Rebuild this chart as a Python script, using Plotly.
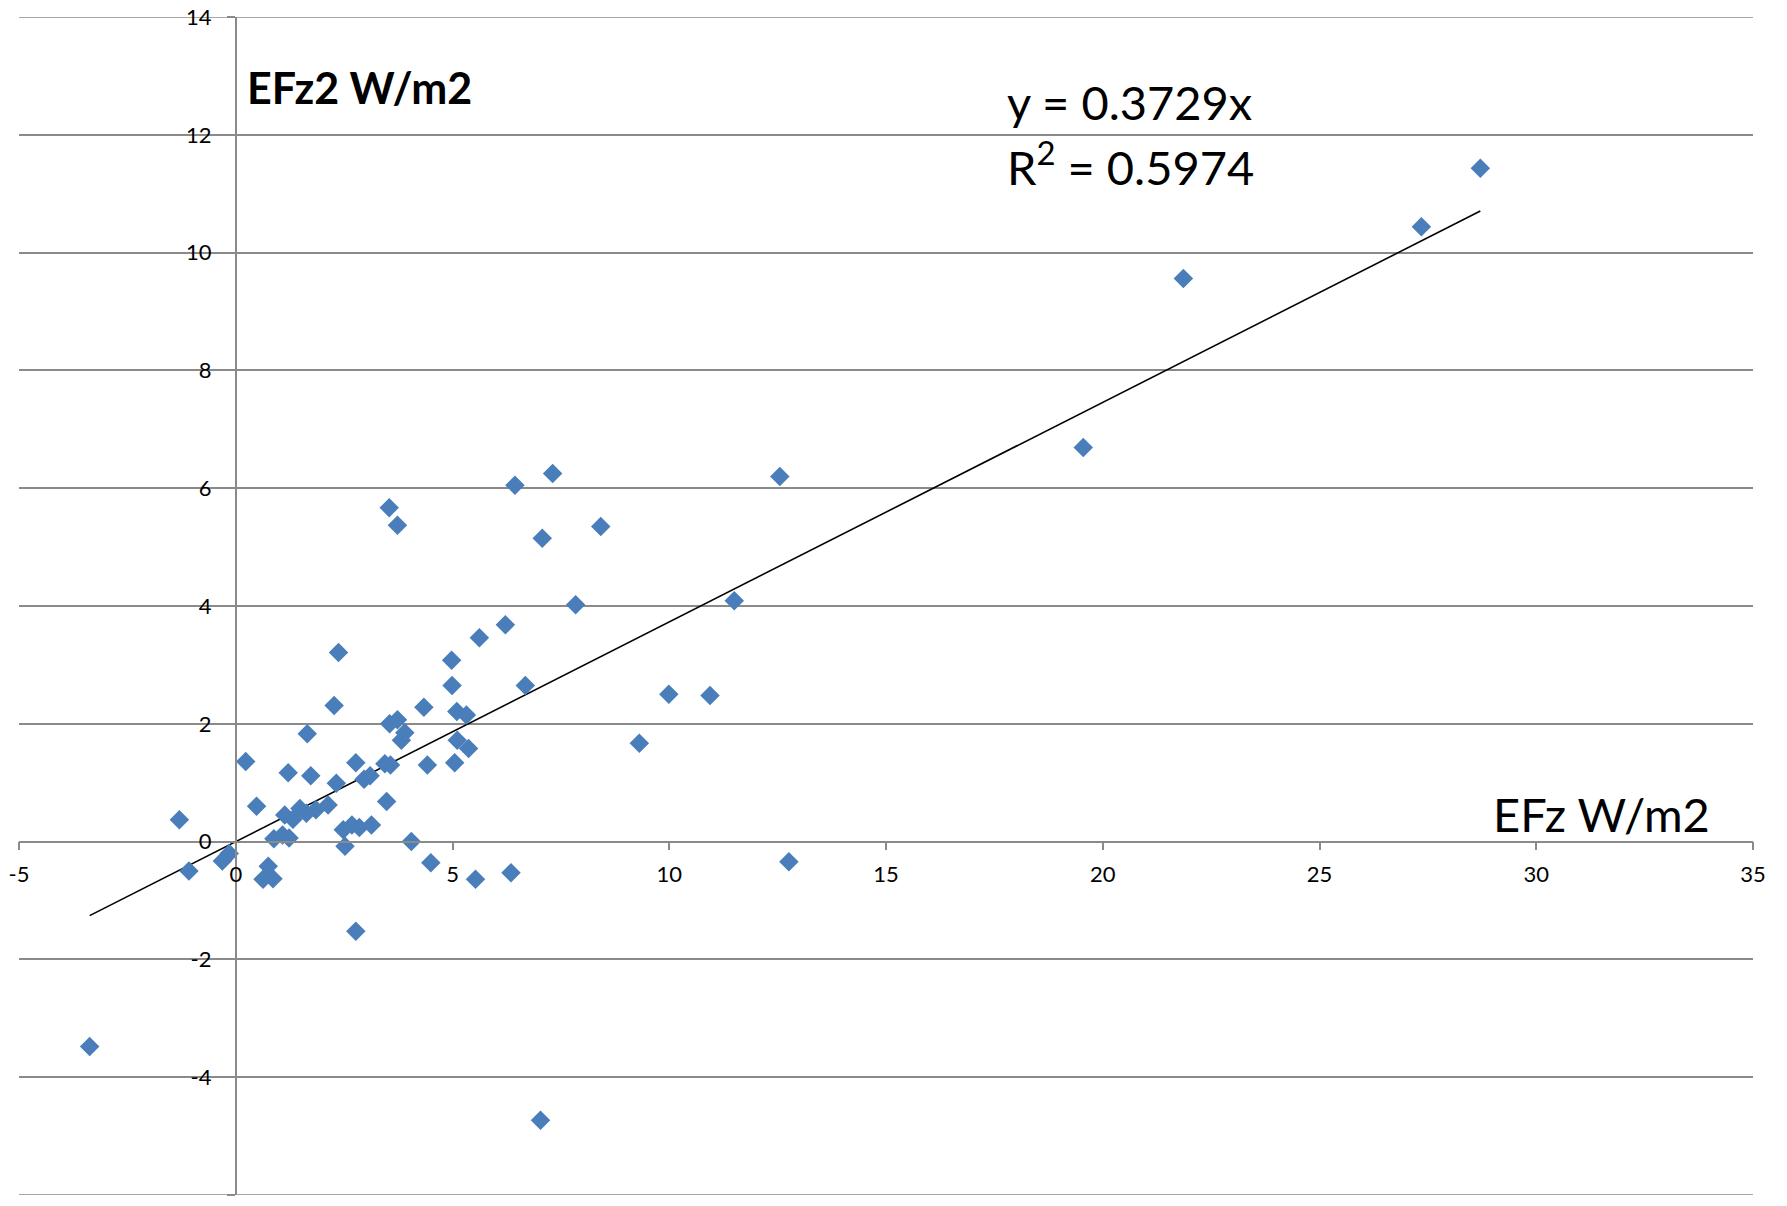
import plotly.graph_objects as go

# Data (EFz vs EFz2, W/m2)
efz = [-3.37, -1.30, -1.08, -0.31, -0.15, 0.23, 0.48, 0.63, 0.75, 0.86,
       0.88, 1.08, 1.23, 1.13, 1.32, 1.21, 1.48, 1.63, 1.65, 1.73,
       1.85, 2.13, 2.27, 2.32, 2.37, 2.48, 2.52, 2.68, 2.77, 2.77,
       2.85, 2.96, 3.10, 3.13, 3.44, 3.48, 3.54, 3.55, 3.57, 3.73,
       3.73, 3.82, 3.90, 4.05, 4.34, 4.42, 4.50, 4.98, 4.99, 5.05,
       5.10, 5.11, 5.32, 5.37, 5.53, 5.62, 6.22, 6.35, 6.44, 6.68,
       7.03, 7.07, 7.31, 7.84, 8.42, 9.31, 9.99, 10.94, 11.50, 12.55,
       12.76, 19.55, 21.86, 27.35, 28.71]
efz2 = [-3.48, 0.37, -0.50, -0.33, -0.20, 1.36, 0.60, -0.64, -0.42, -0.63,
        0.05, 0.11, 0.06, 0.45, 0.38, 1.17, 0.56, 0.48, 1.83, 1.12,
        0.54, 0.62, 2.31, 0.99, 3.21, 0.20, -0.08, 0.28, 1.34, -1.52,
        0.24, 1.06, 1.12, 0.28, 1.32, 0.68, 5.67, 2.00, 1.30, 2.07,
        5.37, 1.72, 1.85, 0.00, 2.28, 1.30, -0.36, 3.08, 2.65, 1.34,
        2.21, 1.72, 2.15, 1.58, -0.64, 3.46, 3.68, -0.53, 6.05, 2.65,
        -4.73, 5.15, 6.25, 4.02, 5.35, 1.67, 2.50, 2.48, 4.09, 6.20,
        -0.34, 6.69, 9.56, 10.44, 11.43]

slope = 0.3729
r_squared = 0.5974

x_ticks = [-5, 0, 5, 10, 15, 20, 25, 30, 35]
y_ticks = [-6, -4, -2, 0, 2, 4, 6, 8, 10, 12, 14]
x_tick_labels = ["-5", "0", "5", "10", "15", "20", "25", "30", "35"]
y_tick_labels = ["-6", "-4", "-2", "0", "2", "4", "6", "8", "10", "12", "14"]

x_min, x_max = -5, 35
y_min, y_max = -6, 14

grid = "#8a8a8a"
font = "Lato"

trend_x = [min(efz), max(efz)]
trend_y = [slope * v for v in trend_x]

fig = go.Figure()
fig.add_trace(go.Scatter(
    x=trend_x, y=trend_y, mode="lines",
    line=dict(color="black", width=1.6), hoverinfo="skip", showlegend=False))
fig.add_trace(go.Scatter(
    x=efz, y=efz2, mode="markers",
    marker=dict(symbol="diamond", size=15, color="#4A7EBB",
                line=dict(width=0)),
    showlegend=False))

# edge gridlines (top and bottom) that plotly omits at the range limits
edge_shapes = [
    dict(type="line", xref="paper", yref="y", x0=0, x1=1, y0=v, y1=v,
         line=dict(color=grid, width=1.6), layer="below")
    for v in (y_min, y_max)
]

fig.update_layout(
    width=1787, height=1206,
    margin=dict(l=19, r=34, t=17, b=11, autoexpand=False),
    paper_bgcolor="white", plot_bgcolor="white",
    font=dict(family=font, color="black"),
    showlegend=False,
    xaxis=dict(
        range=[x_min, x_max], tickvals=x_ticks, ticktext=x_tick_labels,
        anchor="free", position=(0 - y_min) / (y_max - y_min),
        showline=True, linecolor=grid, linewidth=1.6,
        ticks="outside", ticklen=8, tickwidth=1.6, tickcolor=grid,
        showgrid=False, zeroline=False, automargin=False,
        tickfont=dict(family=font, size=22, color="black"),
        ticklabelstandoff=5,
    ),
    yaxis=dict(
        range=[y_min, y_max], tickvals=y_ticks, ticktext=y_tick_labels,
        anchor="free", position=(0 - x_min) / (x_max - x_min),
        showline=True, linecolor=grid, linewidth=1.6,
        ticks="outside", ticklen=8, tickwidth=1.6, tickcolor=grid,
        showgrid=True, gridcolor=grid, gridwidth=1.6,
        zeroline=False, automargin=False,
        tickfont=dict(family=font, size=22, color="black"),
        ticklabelstandoff=11,
    ),
    shapes=edge_shapes,
    annotations=[
        dict(x=0.22, y=12.8, xref="x", yref="y", text="<b>EFz2 W/m2</b>",
             showarrow=False, xanchor="left", yanchor="middle",
             font=dict(family=font, size=43, color="black")),
        dict(x=17.75, y=12.55, xref="x", yref="y",
             text=f"y = {slope}x",
             showarrow=False, xanchor="left", yanchor="middle",
             font=dict(family=font, size=47, color="black")),
        dict(x=17.75, y=11.5, xref="x", yref="y",
             text=f"R<sup>2</sup> = {r_squared}",
             showarrow=False, xanchor="left", yanchor="middle",
             font=dict(family=font, size=47, color="black")),
        dict(x=28.95, y=0.47, xref="x", yref="y", text="EFz W/m2",
             showarrow=False, xanchor="left", yanchor="middle",
             font=dict(family=font, size=47, color="black")),
    ],
)

fig.write_html("out.html")
